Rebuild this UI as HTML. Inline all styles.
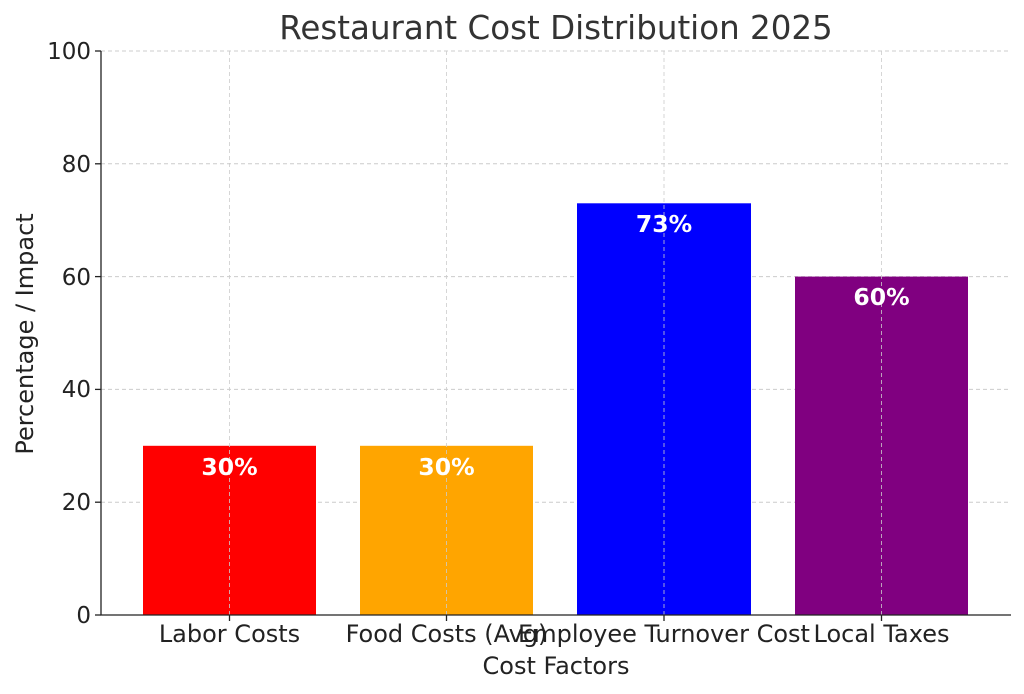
<!DOCTYPE html>
<html><head><meta charset="utf-8"><style>html,body{margin:0;padding:0;background:#fff}svg{display:block}</style></head>
<body>
<svg width="1024" height="694" viewBox="0 0 1024 694" xmlns="http://www.w3.org/2000/svg" font-family="DejaVu Sans, Liberation Sans, sans-serif">
<rect width="1024" height="694" fill="#fff"/>
<g stroke="#cccccc" stroke-width="1" stroke-dasharray="4,3">
<line x1="101" y1="502.2" x2="1011" y2="502.2"/>
<line x1="101" y1="389.4" x2="1011" y2="389.4"/>
<line x1="101" y1="276.6" x2="1011" y2="276.6"/>
<line x1="101" y1="163.8" x2="1011" y2="163.8"/>
<line x1="101" y1="51" x2="1011" y2="51"/>
</g>
<rect x="143" y="445.8" width="173" height="169.2" fill="#ff0000"/>
<rect x="360" y="445.8" width="173" height="169.2" fill="#ffa500"/>
<rect x="577" y="203.3" width="174" height="411.7" fill="#0000ff"/>
<rect x="795" y="276.6" width="173" height="338.4" fill="#800080"/>
<g stroke="#cccccc" stroke-width="1" stroke-dasharray="4,3" opacity="0.8">
<line x1="229.5" y1="51" x2="229.5" y2="615"/>
<line x1="446.5" y1="51" x2="446.5" y2="615"/>
<line x1="664" y1="51" x2="664" y2="615"/>
<line x1="881.5" y1="51" x2="881.5" y2="615"/>
</g>
<g stroke="#222" stroke-width="1.3" fill="none">
<line x1="101" y1="51" x2="101" y2="615.5"/>
<line x1="100.5" y1="615" x2="1011" y2="615"/>
</g>
<g stroke="#222" stroke-width="1.3">
<line x1="95" y1="615" x2="101" y2="615"/><line x1="95" y1="502.2" x2="101" y2="502.2"/><line x1="95" y1="389.4" x2="101" y2="389.4"/><line x1="95" y1="276.6" x2="101" y2="276.6"/><line x1="95" y1="163.8" x2="101" y2="163.8"/><line x1="95" y1="51" x2="101" y2="51"/>
<line x1="229.5" y1="615" x2="229.5" y2="621"/><line x1="446.5" y1="615" x2="446.5" y2="621"/><line x1="664" y1="615" x2="664" y2="621"/><line x1="881.5" y1="615" x2="881.5" y2="621"/>
</g>
<g font-size="23" fill="#222" text-anchor="end">
<text x="91" y="623">0</text><text x="91" y="510">20</text><text x="91" y="397">40</text><text x="91" y="285">60</text><text x="91" y="172">80</text><text x="91" y="59">100</text>
</g>
<g font-size="24" fill="#222" text-anchor="middle">
<text x="229.5" y="642">Labor Costs</text>
<text x="446.5" y="642">Food Costs (Avg)</text>
<text x="664" y="642">Employee Turnover Cost</text>
<text x="881.5" y="642">Local Taxes</text>
<text x="556" y="674">Cost Factors</text>
<text x="556" y="39" font-size="32.5" fill="#333">Restaurant Cost Distribution 2025</text>
<text transform="translate(33,334) rotate(-90)">Percentage / Impact</text>
</g>
<g font-size="23.5" font-weight="bold" fill="#fff" text-anchor="middle">
<text x="229.5" y="475">30%</text>
<text x="446.5" y="475">30%</text>
<text x="664" y="232">73%</text>
<text x="881.5" y="305">60%</text>
</g>
</svg>
</body></html>
